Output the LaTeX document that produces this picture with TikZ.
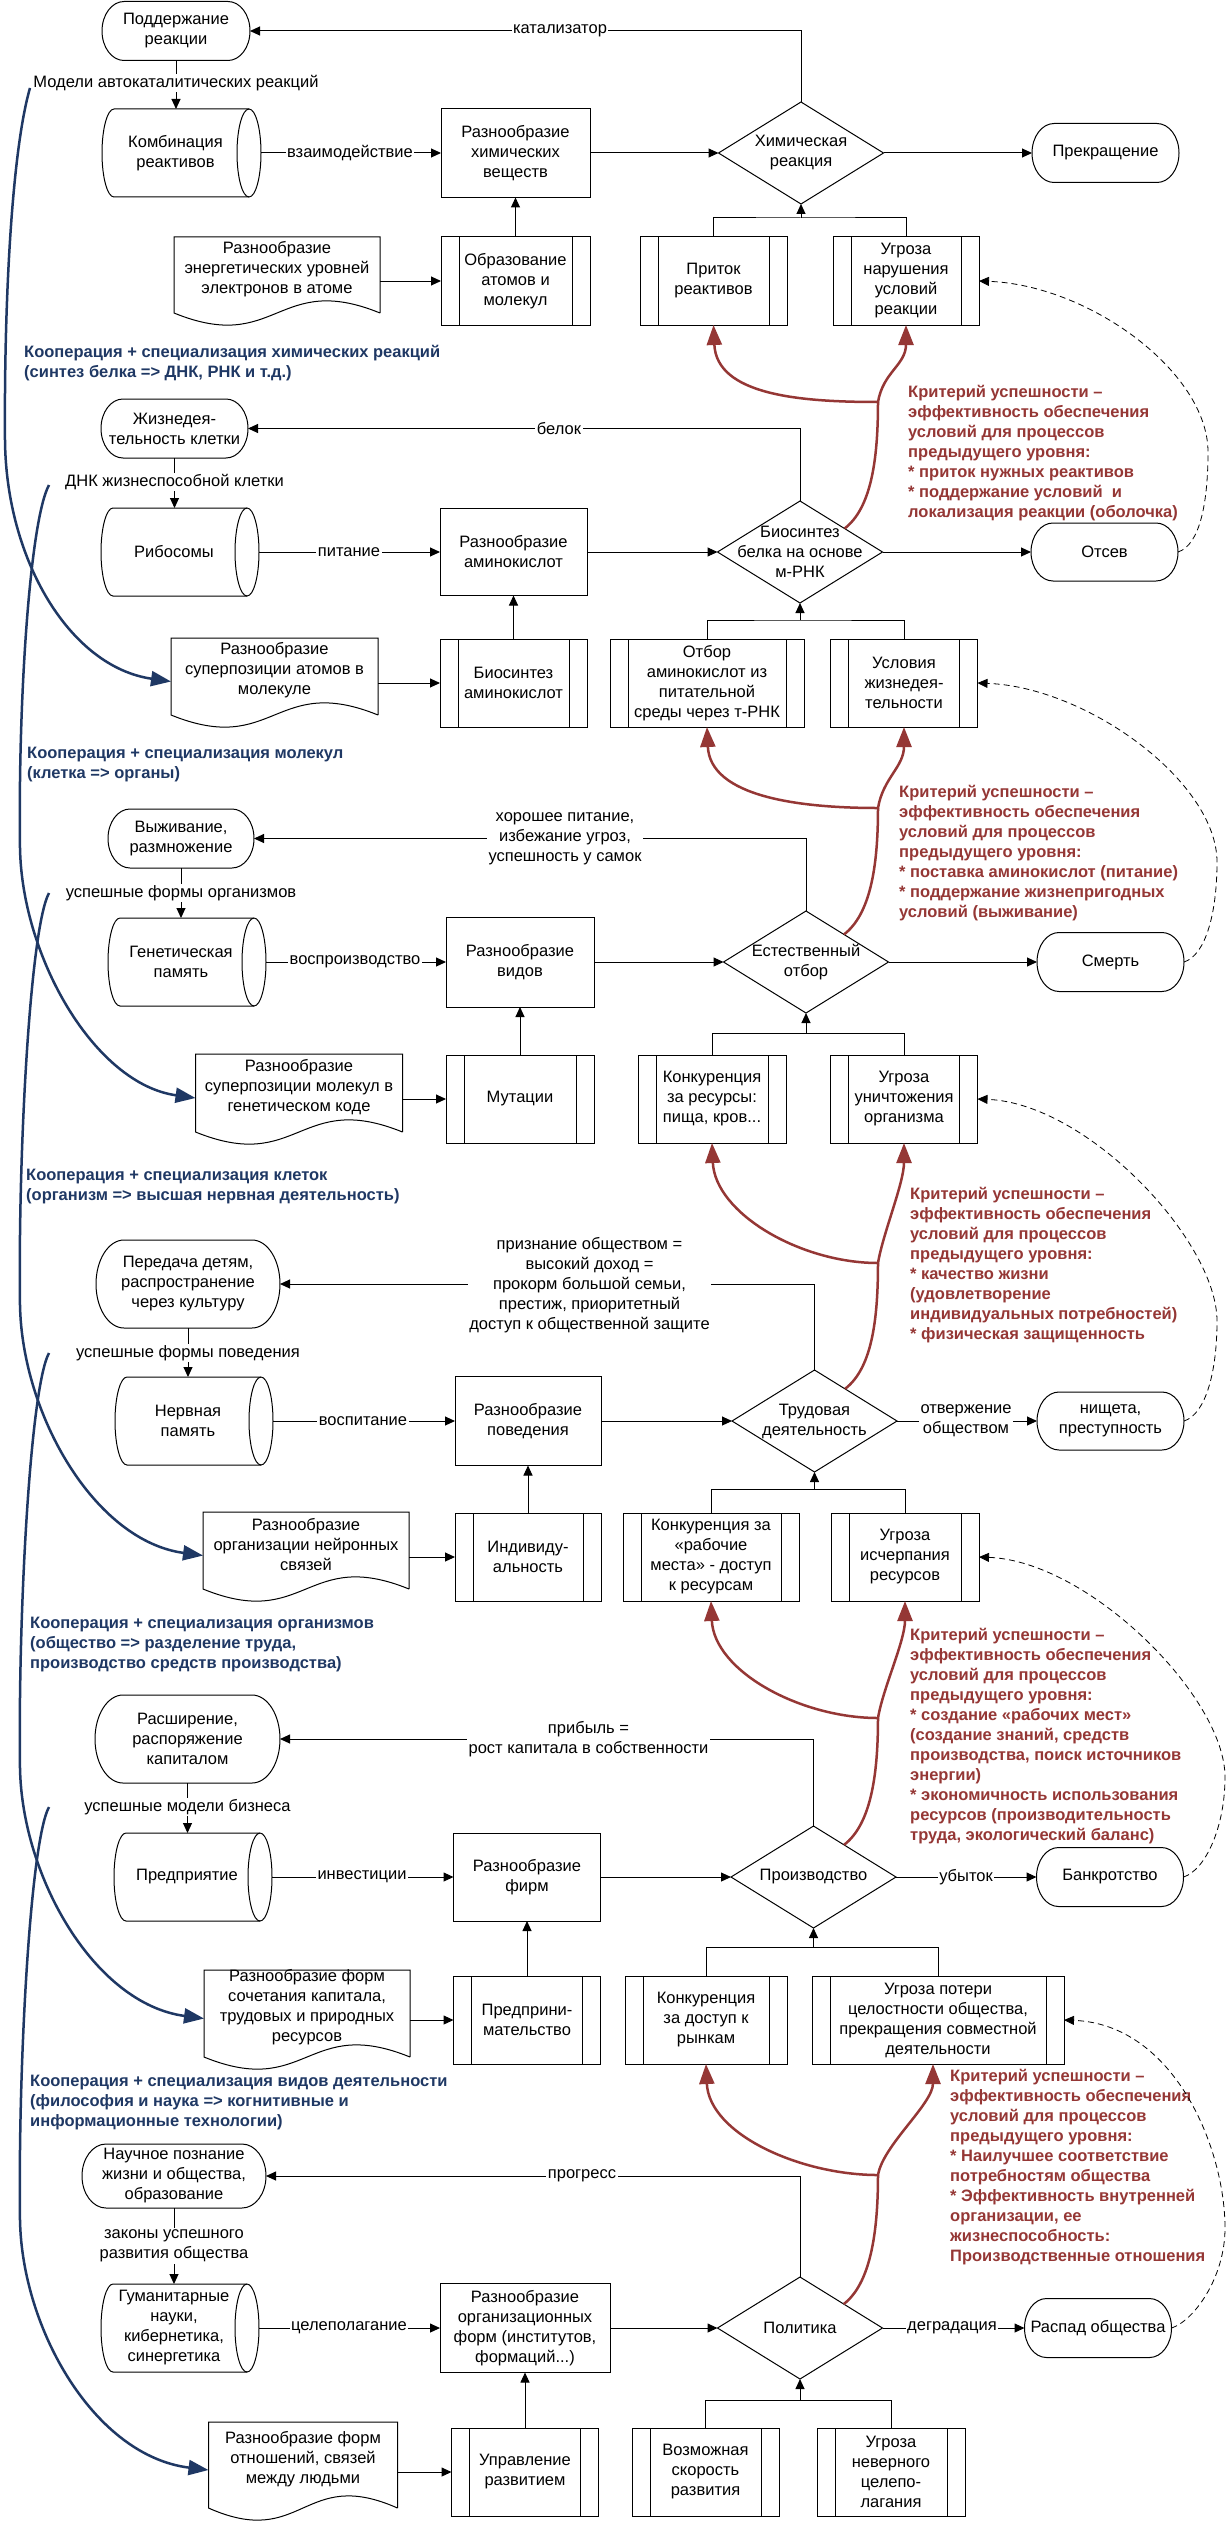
\documentclass[tikz,border=0pt]{standalone}
\usepackage{fontspec}
\setmainfont{Liberation Sans}
\usetikzlibrary{shapes.geometric,arrows.meta,calc}
\definecolor{critred}{RGB}{149,55,53}
\definecolor{coopblue}{RGB}{31,56,100}
\newcommand\mynf{\fontsize{16.5}{20}\selectfont}
\tikzset{
 ln/.style={line width=1pt},
 arr/.style={line width=1pt,-{Triangle[length=10pt,width=9pt]}},
 txt/.style={font=\mynf,align=center,inner sep=0pt},
 lbl/.style={font=\mynf,align=center,fill=white,inner sep=1.5pt},
 procn/.style={draw,line width=1pt,font=\mynf,align=center,inner sep=1pt,outer sep=0pt},
 ppn/.style={procn,minimum height=88pt,path picture={
   \draw[line width=1pt] ([xshift=18pt]path picture bounding box.north west) -- ([xshift=18pt]path picture bounding box.south west)
     ([xshift=-18pt]path picture bounding box.north east) -- ([xshift=-18pt]path picture bounding box.south east);}},
 termn/.style={font=\mynf,align=center,inner sep=0pt,outer sep=0pt},
 storn/.style={minimum height=88pt,inner sep=0pt,outer sep=0pt},
 docn/.style={inner sep=0pt,outer sep=0pt},
 dia/.style={diamond,draw,line width=1pt,minimum width=165pt,minimum height=102pt,inner sep=0pt,outer sep=0pt},
 redln/.style={draw=critred,line width=2.5pt},
 redarr/.style={redln,-{Triangle[length=20pt,width=15pt]}},
 bluearr/.style={draw=coopblue,line width=2.5pt,-{Triangle[length=20pt,width=15pt]}},
 dasharr/.style={line width=0.8pt,dash pattern=on 6pt off 4pt,-{Triangle[length=10pt,width=9pt]}},
 crit/.style={font=\bfseries\mynf,text=critred,align=left,anchor=west,inner sep=0pt},
 coop/.style={font=\bfseries\mynf,text=coopblue,align=left,anchor=west,inner sep=0pt},
}
\newcommand\mkTerm[7]{%
 \node[termn,minimum width=#4pt,minimum height=#5pt] (#1) at (#2,#3) {#7};
 \draw[ln] ([xshift=#6pt]#1.north west) -- ([xshift=-#6pt]#1.north east)
  arc[start angle=90,end angle=-90,x radius=#6pt,y radius=0.5*#5pt]
  -- ([xshift=#6pt]#1.south west)
  arc[start angle=270,end angle=90,x radius=#6pt,y radius=0.5*#5pt] -- cycle;}
\newcommand\mkStor[5]{%
 \node[storn,minimum width=#4pt,label={[txt,xshift=-6pt]center:{#5}}] (#1) at (#2,#3) {};
 \draw[ln] ([xshift=12pt]#1.north west) -- ([xshift=-12pt]#1.north east)
  arc[start angle=90,end angle=-90,x radius=12pt,y radius=44pt]
  -- ([xshift=12pt]#1.south west)
  arc[start angle=270,end angle=90,x radius=12pt,y radius=44pt];
 \draw[ln] ([xshift=-12pt]#1.north east) arc[start angle=90,end angle=270,x radius=12pt,y radius=44pt];}
\newcommand\mkDoc[6]{%
 \node[docn,minimum width=#4pt,minimum height=#5pt,label={[txt,yshift=6pt]center:{#6}}] (#1) at (#2,#3) {};
 \draw[ln] (#1.south east) -- (#1.north east) -- (#1.north west) -- (#1.south west)
  .. controls ([yshift=-42pt]#1.south) and ([yshift=42pt]#1.south) .. (#1.south east);}
\newcommand\mkPP[5]{\node[ppn,minimum width=#4pt] (#1) at (#2,#3) {#5};}
\newcommand\mkProc[6]{\node[procn,minimum width=#4pt,minimum height=#5pt] (#1) at (#2,#3) {#6};}
\newcommand\mkDia[4]{\node[dia,label={[txt]center:{#4}}] (#1) at (#2,#3) {};}
\newcommand\mkRed[6]{%
 \coordinate (#1) at (878,#2);
 \draw[redln] ($(#3.north)!#4!(#3.east)$) .. controls +(26,-20) and +(0,60) .. (#1);
 \draw[redarr] (#1) .. controls +(-78,0) and +(3,70) .. (#5.south);
 \draw[redarr] (#1) .. controls +(5,-30) and +(0,40) .. #6;}
\newcommand\mkDash[4]{\draw[dasharr] (#1.east) .. controls +(22,-7) and +(0,50) .. (#3,#4) .. controls +(0,-80) and +(110,4) .. (#2.east);}
\newcommand\mkFlow[9]{%  term, stor, proc, dia, endterm, doc, pp, left, right
 \draw[arr] (#1.south) -- (#1.south |- #2.north);
 \draw[arr] (#2.east) -- (#3.west);
 \draw[arr] (#3.east) -- (#4.west);
 \draw[arr] (#4.east) -- (#5.west);
 \draw[arr] (#6.east |- #7.west) -- (#7.west);
 \draw[arr] (#7.north) -- (#3.south);
 \draw[arr] (#4.north) |- (#1.east);}
\begin{document}
\begin{tikzpicture}[x=1pt,y=-1pt]
\useasboundingbox (0,0) rectangle (1231,2523);
\fill[white] (0,0) rectangle (1231,2523);

% ---------- Section A
\mkTerm{tA}{176}{31}{148}{59}{22}{Поддержание\\реакции}
\mkStor{cA}{181.5}{153}{159}{Комбинация\\реактивов}
\mkProc{pA}{515.5}{153}{149}{89}{Разнообразие\\химических\\веществ}
\mkDoc{docA}{277}{275}{206}{76}{Разнообразие\\энергетических уровней\\электронов в атоме}
\mkPP{qA}{515.5}{281}{149}{Образование\\атомов и\\молекул}
\mkDia{dA}{801}{153}{Химическая\\реакция}
\mkTerm{eA}{1105.5}{153}{147}{59}{22}{Прекращение}
\mkPP{aA}{713.5}{281}{147}{Приток\\реактивов}
\mkPP{bA}{906}{281}{146}{Угроза\\нарушения\\условий\\реакции}
\coordinate (jA) at (801,218);
\mkFlow{tA}{cA}{pA}{dA}{eA}{docA}{qA}{aA}{bA}
\draw[ln] (aA.north) |- (jA) -| (bA.north);
\draw[arr] (jA) -- (dA.south);
\node[lbl] (lA) at (176,83) {Модели автокаталитических реакций};
\node[lbl] (vA) at (350,153) {взаимодействие};
\node[lbl] (fA) at (560,31) {катализатор};
\node[coop] (hA) at (24,363) {Кооперация + специализация химических реакций\\(синтез белка => ДНК, РНК и т.д.)};
\node[crit] (kA) at (908,453) {Критерий успешности –\\эффективность обеспечения\\условий для процессов\\предыдущего уровня:\\* приток нужных реактивов\\* поддержание условий\ \ и\\локализация реакции (оболочка)};

% ---------- Section B
\mkTerm{tB}{174.5}{428.5}{147}{59}{22}{Жизнедея-\\тельность клетки}
\mkStor{cB}{180}{552}{158}{Рибосомы}
\mkProc{pB}{513.5}{552}{147}{87}{Разнообразие\\аминокислот}
\mkDoc{docB}{274.5}{676.5}{207}{77}{Разнообразие\\суперпозиции атомов в\\молекуле}
\mkPP{qB}{513.5}{683}{147}{Биосинтез\\аминокислот}
\mkDia{dB}{800}{552}{Биосинтез\\белка на основе\\м-РНК}
\mkTerm{eB}{1104.5}{552}{147}{58}{22}{Отсев}
\mkPP{aB}{707}{683}{194}{Отбор\\аминокислот из\\питательной\\среды через т-РНК}
\mkPP{bB}{904}{683}{147}{Условия\\жизнедея-\\тельности}
\coordinate (jB) at (800,620);
\mkFlow{tB}{cB}{pB}{dB}{eB}{docB}{qB}{aB}{bB}
\draw[ln] (aB.north) |- (jB) -| (bB.north);
\draw[arr] (jB) -- (dB.south);
\node[lbl] (lB) at (174.5,482) {ДНК жизнеспособной клетки};
\node[lbl] (vB) at (349,552) {питание};
\node[lbl] (fB) at (559,428.5) {белок};
\node[coop] (hB) at (27,765) {Кооперация + специализация молекул\\(клетка => органы)};
\node[crit] (kB) at (899,853) {Критерий успешности –\\эффективность обеспечения\\условий для процессов\\предыдущего уровня:\\* поставка аминокислот (питание)\\* поддержание жизнепригодных\\условий (выживание)};

% ---------- Section C
\mkTerm{tC}{181}{838.5}{146}{59}{22}{Выживание,\\размножение}
\mkStor{cC}{187}{962}{158}{Генетическая\\память}
\mkProc{pC}{520}{962}{148}{90}{Разнообразие\\видов}
\mkDoc{docC}{299}{1093}{207}{78}{Разнообразие\\суперпозиции молекул в\\генетическом коде}
\mkPP{qC}{520}{1099}{148}{Мутации}
\mkDia{dC}{806}{962}{Естественный\\отбор}
\mkTerm{eC}{1110.5}{962}{147}{59}{22}{Смерть}
\mkPP{aC}{712}{1099}{148}{Конкуренция\\за ресурсы:\\пища, кров...}
\mkPP{bC}{904}{1099}{147}{Угроза\\уничтожения\\организма}
\coordinate (jC) at (806,1033);
\mkFlow{tC}{cC}{pC}{dC}{eC}{docC}{qC}{aC}{bC}
\draw[ln] (aC.north) |- (jC) -| (bC.north);
\draw[arr] (jC) -- (dC.south);
\node[lbl] (lC) at (181,893) {успешные формы организмов};
\node[lbl] (vC) at (355,962) {воспроизводство};
\node[lbl] (fC) at (565,839) {хорошее питание,\\избежание угроз,\\успешность у самок};
\node[coop] (hC) at (26,1187) {Кооперация + специализация клеток\\(организм => высшая нервная деятельность)};
\node[crit] (kC) at (910,1265) {Критерий успешности –\\эффективность обеспечения\\условий для процессов\\предыдущего уровня:\\* качество жизни\\(удовлетворение\\индивидуальных потребностей)\\* физическая защищенность};

% ---------- Section D
\mkTerm{tD}{188}{1284}{184}{88}{28}{Передача детям,\\распространение\\через культуру}
\mkStor{cD}{194}{1421}{158}{Нервная\\память}
\mkProc{pD}{528}{1421}{146}{89}{Разнообразие\\поведения}
\mkDoc{docD}{306}{1550.5}{206}{77}{Разнообразие\\организации нейронных\\связей}
\mkPP{qD}{528}{1557}{146}{Индивиду-\\альность}
\mkDia{dD}{814.5}{1421}{Трудовая\\деятельность}
\mkTerm{eD}{1110.5}{1421}{147}{58}{22}{нищета,\\преступность}
\mkPP{aD}{711}{1557}{176}{Конкуренция за\\«рабочие\\места» - доступ\\к ресурсам}
\mkPP{bD}{905}{1557}{148}{Угроза\\исчерпания\\ресурсов}
\coordinate (jD) at (814.5,1489);
\mkFlow{tD}{cD}{pD}{dD}{eD}{docD}{qD}{aD}{bD}
\draw[ln] (aD.north) |- (jD) -| (bD.north);
\draw[arr] (jD) -- (dD.south);
\node[lbl] (lD) at (188,1353) {успешные формы поведения};
\node[lbl] (vD) at (363,1421) {воспитание};
\node[lbl] (fD) at (589.5,1285) {признание обществом =\\высокий доход =\\прокорм большой семьи,\\престиж, приоритетный\\доступ к общественной защите};
\node[lbl] (oD) at (966,1421) {отвержение\\обществом};
\node[coop] (hD) at (30,1645) {Кооперация + специализация организмов\\(общество => разделение труда,\\производство средств производства)};
\node[crit] (kD) at (910,1736) {Критерий успешности –\\эффективность обеспечения\\условий для процессов\\предыдущего уровня:\\* создание «рабочих мест»\\(создание знаний, средств\\производства, поиск источников\\энергии)\\* экономичность использования\\ресурсов (производительность\\труда, экологический баланс)};

% ---------- Section E
\mkTerm{tE}{187.5}{1739}{185}{88}{28}{Расширение,\\распоряжение\\капиталом}
\mkStor{cE}{193}{1877}{158}{Предприятие}
\mkProc{pE}{527}{1877}{147}{88}{Разнообразие\\фирм}
\mkDoc{docE}{307}{2013.5}{206}{87}{Разнообразие форм\\сочетания капитала,\\трудовых и природных\\ресурсов}
\mkPP{qE}{527}{2020}{147}{Предприни-\\мательство}
\mkDia{dE}{813.5}{1877}{Производство}
\mkTerm{eE}{1110}{1877}{147}{59}{22}{Банкротство}
\mkPP{aE}{706}{2020}{162}{Конкуренция\\за доступ к\\рынкам}
\mkPP{bE}{938}{2020}{252}{Угроза потери\\целостности общества,\\прекращения совместной\\деятельности}
\coordinate (jE) at (813.5,1947);
\mkFlow{tE}{cE}{pE}{dE}{eE}{docE}{qE}{aE}{bE}
\draw[ln] (aE.north) |- (jE) -| (bE.north);
\draw[arr] (jE) -- (dE.south);
\node[lbl] (lE) at (187.5,1807) {успешные модели бизнеса};
\node[lbl] (vE) at (362,1877) {инвестиции};
\node[lbl] (fE) at (588.5,1739) {прибыль =\\рост капитала в собственности};
\node[lbl] (oE) at (966,1877) {убыток};
\node[coop] (hE) at (30,2103) {Кооперация + специализация видов деятельности\\(философия и наука => когнитивные и\\информационные технологии)};
\node[crit] (kE) at (950,2167) {Критерий успешности –\\эффективность обеспечения\\условий для процессов\\предыдущего уровня:\\* Наилучшее соответствие\\потребностям общества\\* Эффективность внутренней\\организации, ее\\жизнеспособность:\\Производственные отношения};

% ---------- Section F
\mkTerm{tF}{174}{2176}{184}{64}{24}{Научное познание\\жизни и общества,\\образование}
\mkStor{cF}{180}{2328}{158}{Гуманитарные\\науки,\\кибернетика,\\синергетика}
\mkProc{pF}{525}{2328}{170}{89}{Разнообразие\\организационных\\форм (институтов,\\формаций...)}
\mkDoc{docF}{303}{2465}{189}{86}{Разнообразие форм\\отношений, связей\\между людьми}
\mkPP{qF}{525}{2472}{147}{Управление\\развитием}
\mkDia{dF}{800}{2328}{Политика}
\mkTerm{eF}{1098}{2328}{147}{59}{22}{Распад общества}
\mkPP{aF}{705.5}{2472}{147}{Возможная\\скорость\\развития}
\mkPP{bF}{891}{2472}{148}{Угроза\\неверного\\целепо-\\лагания}
\coordinate (jF) at (800,2400);
\mkFlow{tF}{cF}{pF}{dF}{eF}{docF}{qF}{aF}{bF}
\draw[ln] (aF.north) |- (jF) -| (bF.north);
\draw[arr] (jF) -- (dF.south);
\node[lbl] (lF) at (174,2246) {законы успешного\\развития общества};
\node[lbl] (vF) at (349,2328) {целеполагание};
\node[lbl] (fF) at (582,2176) {прогресс};
\node[lbl] (oF) at (952,2328) {деградация};

% ---------- red criterion arrows
\mkRed{JA}{402}{dB}{0.54}{aA}{(bA.south)}
\mkRed{JB}{808}{dC}{0.46}{aB}{(bB.south)}
\mkRed{JC}{1263}{dD}{0.37}{aC}{(bC.south)}
\mkRed{JD}{1718}{dE}{0.37}{aD}{(bD.south)}
\mkRed{JE}{2175}{dF}{0.53}{aE}{([xshift=-5pt]bE.south)}

% ---------- dashed feedback
\mkDash{eB}{bA}{1208}{452}
\mkDash{eC}{bB}{1217}{862}
\mkDash{eD}{bC}{1217}{1321}
\mkDash{eE}{bD}{1225}{1777}
\mkDash{eF}{bE}{1225}{2228}

% ---------- blue cooperation arrows
\coordinate (sA) at (30,88);
\coordinate (sB) at (49,485);
\coordinate (sC) at (49,893);
\coordinate (sD) at (49,1353);
\coordinate (sE) at (49,1807);
\draw[bluearr] (sA) .. controls (12,150) and (4,300) .. (5,440) .. controls (6,560) and (70,667) .. ([yshift=-5pt]docB.west);
\draw[bluearr] (sB) .. controls (30,520) and (18,700) .. (20,848) .. controls (22,958) and (95,1084) .. ([yshift=-5pt]docC.west);
\draw[bluearr] (sC) .. controls (30,928) and (18,1155) .. (20,1305) .. controls (22,1415) and (95,1541) .. ([yshift=-5pt]docD.west);
\draw[bluearr] (sD) .. controls (30,1388) and (18,1618) .. (20,1768) .. controls (22,1878) and (95,2004) .. ([yshift=-5pt]docE.west);
\draw[bluearr] (sE) .. controls (30,1842) and (18,2070) .. (20,2220) .. controls (22,2330) and (95,2456) .. ([yshift=-5pt]docF.west);
\end{tikzpicture}
\end{document}
